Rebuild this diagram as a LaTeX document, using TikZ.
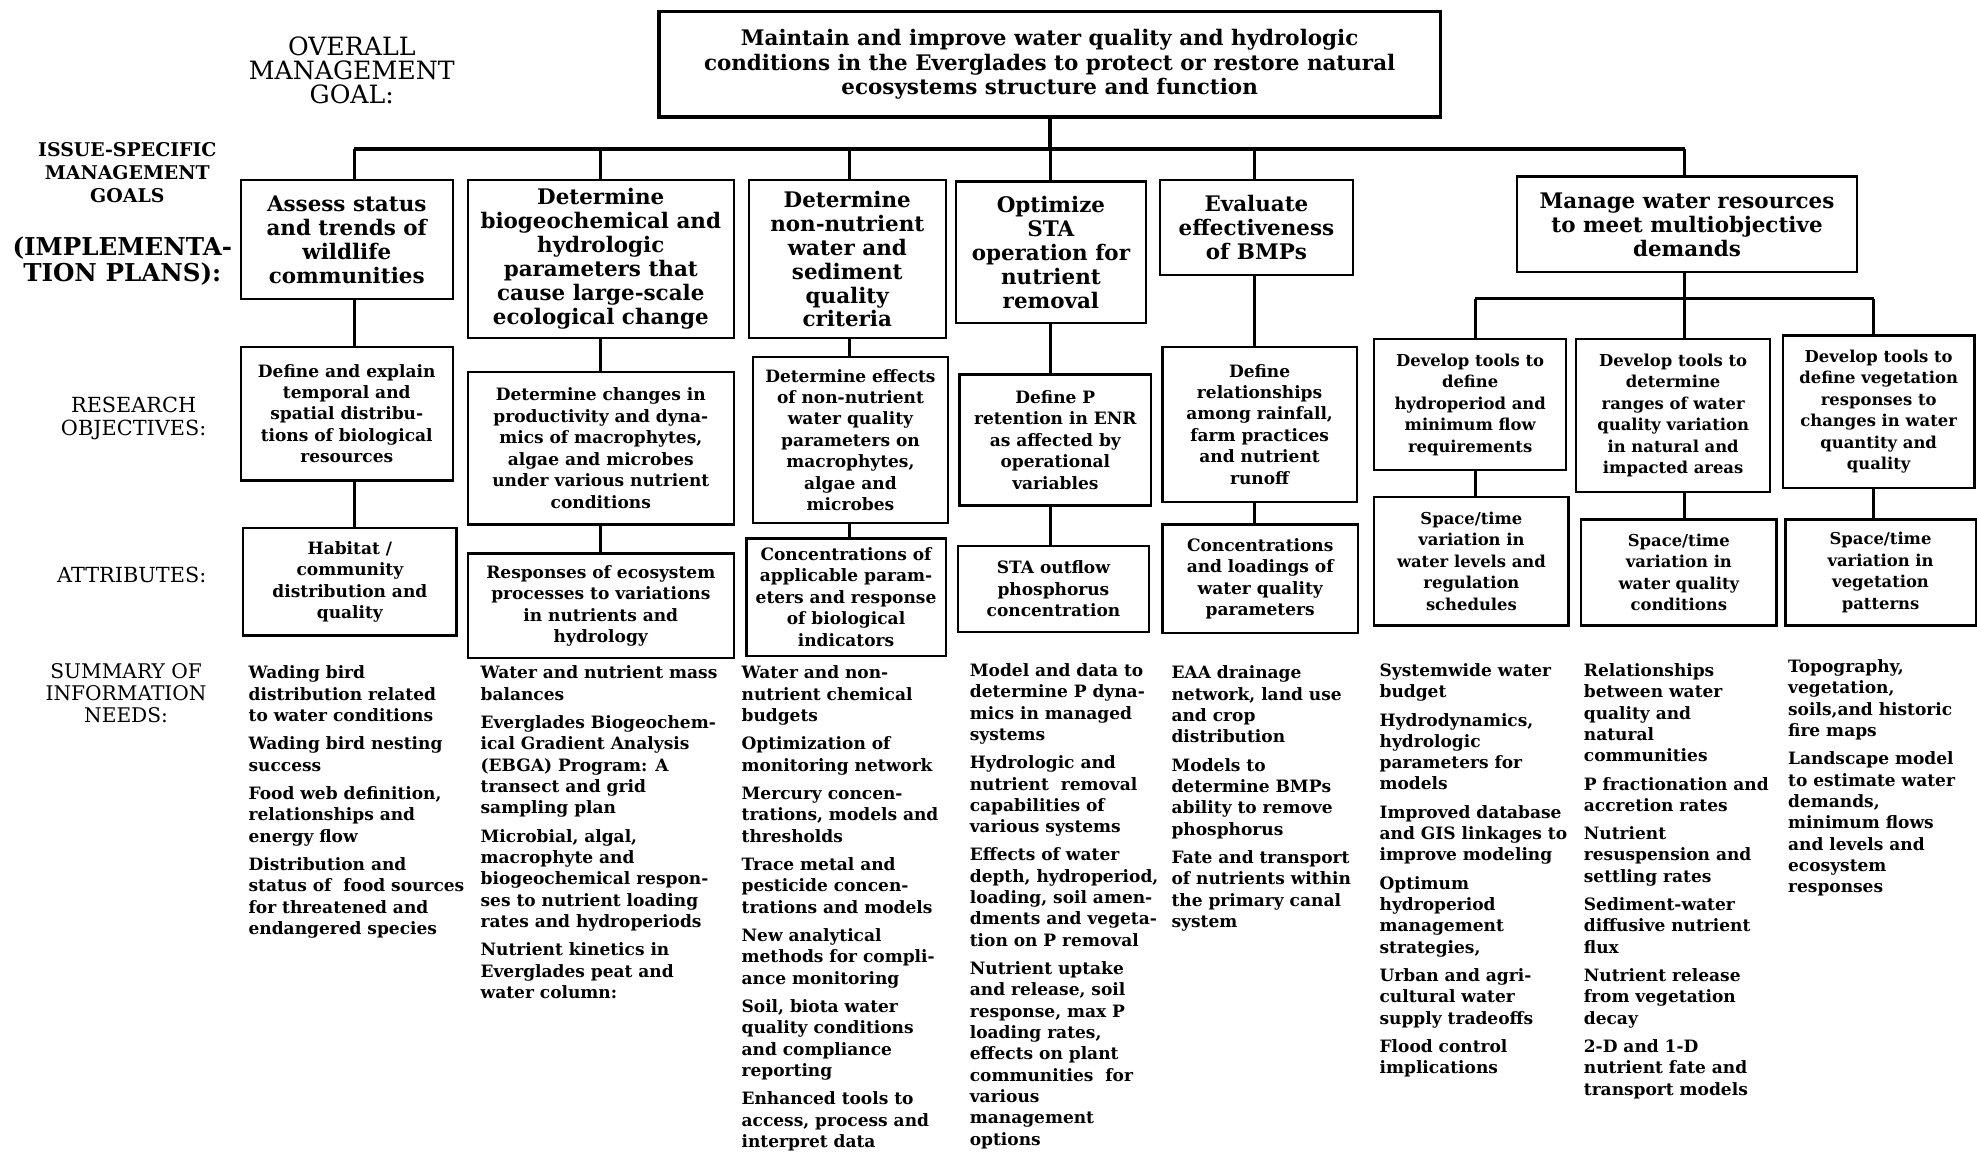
\documentclass[tikz,border=0pt]{standalone}
\usepackage{fontspec}
\setmainfont{DejaVu Serif}
\begin{document}
\begin{tikzpicture}[x=1pt,y=-1pt,
  box/.style={draw, line width=1.8pt, align=center, inner sep=1pt, font=\bfseries\fontsize{13.5}{17}\selectfont},
  goal/.style={box, font=\bfseries\fontsize{17}{19}\selectfont},
  small/.style={box, font=\bfseries\fontsize{13}{17}\selectfont},
  info/.style={anchor=north west, align=left, inner sep=0pt, font=\bfseries\fontsize{13.5}{16.9}\selectfont},
  lbl/.style={align=center, inner sep=0pt},
  bar/.style={line width=3pt},
  stem/.style={line width=2.4pt},
]
\fill[white] (0,0) rectangle (1568,917);
\useasboundingbox (0,0) rectangle (1568,917);

% left labels
\node[lbl, font=\fontsize{20}{19}\selectfont] (lgoal) at (279,56) {OVERALL\\MANAGEMENT\\GOAL:};
\node[lbl, font=\bfseries\fontsize{15}{18.5}\selectfont] (lissue) at (101,137) {ISSUE-SPECIFIC\\MANAGEMENT\\GOALS};
\node[lbl, font=\bfseries\fontsize{19.5}{21}\selectfont] (limpl) at (97,207) {(IMPLEMENTA-\\TION PLANS):};
\node[lbl, font=\fontsize{16.5}{18}\selectfont] (lres) at (106,332) {RESEARCH\\OBJECTIVES:};
\node[lbl, font=\fontsize{16.5}{18}\selectfont] (lattr) at (104.5,456) {ATTRIBUTES:};
\node[lbl, font=\fontsize{16}{17.5}\selectfont] (lsum) at (100,550) {SUMMARY OF\\INFORMATION\\NEEDS:};

% overall goal
\node[box, line width=2.8pt, font=\bfseries\fontsize{17}{19.5}\selectfont, minimum width=620, minimum height=84] (top) at (832.5,51)
 {Maintain and improve water quality and hydrologic\\conditions in the Everglades to protect or restore natural\\ecosystems structure and function};

% stem coordinates
\coordinate (c1) at (281,118);
\coordinate (c2) at (476,118);
\coordinate (c3) at (674,118);
\coordinate (c4) at (833,118);
\coordinate (c5) at (995,118);
\coordinate (c6) at (1336,118);
\coordinate (d1) at (1170,237);
\coordinate (d2) at (1336,237);
\coordinate (d3) at (1486,237);

% issue-specific goals
\node[goal, minimum width=168, minimum height=94] (b1) at (275,190) {Assess status\\and trends of\\wildlife\\communities};
\node[goal, minimum width=211, minimum height=125] (b2) at (476.5,205.5) {Determine\\biogeochemical and\\hydrologic\\parameters that\\cause large-scale\\ecological change};
\node[goal, minimum width=156, minimum height=125] (b3) at (672,205.5) {Determine\\non-nutrient\\water and\\sediment\\quality\\criteria};
\node[goal, minimum width=151, minimum height=112] (b4) at (833.5,200) {Optimize\\STA\\operation for\\nutrient\\removal};
\node[goal, minimum width=153, minimum height=75] (b5) at (996.5,180.5) {Evaluate\\effectiveness\\of BMPs};
\node[goal, minimum width=270, minimum height=76] (b6) at (1338,178) {Manage water resources\\to meet multiobjective\\demands};

% research objectives
\node[box, minimum width=168, minimum height=106] (r1) at (275,328) {Define and explain\\temporal and\\spatial distribu-\\tions of biological\\resources};
\node[box, minimum width=211, minimum height=121] (r2) at (476.5,355.5) {Determine changes in\\productivity and dyna-\\mics of macrophytes,\\algae and microbes\\under various nutrient\\conditions};
\node[box, minimum width=155, minimum height=132] (r3) at (674.5,349) {Determine effects\\of non-nutrient\\water quality\\parameters on\\macrophytes,\\algae and\\microbes};
\node[box, minimum width=152, minimum height=104] (r4) at (837,349) {Define P\\retention in ENR\\as affected by\\operational\\variables};
\node[box, minimum width=154, minimum height=123] (r5) at (999,336.5) {Define\\relationships\\among rainfall,\\farm practices\\and nutrient\\runoff};
\node[small, minimum width=152, minimum height=104] (r6) at (1166,321) {Develop tools to\\define\\hydroperiod and\\minimum flow\\requirements};
\node[small, minimum width=154, minimum height=121] (r7) at (1327,329.5) {Develop tools to\\determine\\ranges of water\\quality variation\\in natural and\\impacted areas};
\node[small, minimum width=152, minimum height=121] (r8) at (1490,326.5) {Develop tools to\\define vegetation\\responses to\\changes in water\\quantity and\\quality};

% attributes
\node[box, minimum width=169, minimum height=85] (a1) at (277.5,461.5) {Habitat /\\community\\distribution and\\quality};
\node[box, minimum width=211, minimum height=83] (a2) at (476.5,480.5) {Responses of ecosystem\\processes to variations\\in nutrients and\\hydrology};
\node[box, minimum width=158, minimum height=93] (a3) at (671,473.5) {Concentrations of\\applicable param-\\eters and response\\of biological\\indicators};
\node[box, minimum width=151, minimum height=68] (a4) at (835.5,467) {STA outflow\\phosphorus\\concentration};
\node[box, minimum width=155, minimum height=86] (a5) at (999.5,459) {Concentrations\\and loadings of\\water quality\\parameters};
\node[small, minimum width=154, minimum height=102] (a6) at (1167,445) {Space/time\\variation in\\water levels and\\regulation\\schedules};
\node[small, minimum width=155, minimum height=84] (a7) at (1331.5,454) {Space/time\\variation in\\water quality\\conditions};
\node[small, minimum width=151, minimum height=84] (a8) at (1491.5,454) {Space/time\\variation in\\vegetation\\patterns};

% connectors
\draw[bar] (top.south) -- (top.south |- c4);
\draw[bar] (c1) -- (c6);
\draw[stem] (c1) -- (c1 |- b1.north);
\draw[stem] (c2) -- (c2 |- b2.north);
\draw[stem] (c3) -- (c3 |- b3.north);
\draw[stem] (c4) -- (c4 |- b4.north);
\draw[stem] (c5) -- (c5 |- b5.north);
\draw[stem] (c6) -- (c6 |- b6.north);
\draw[stem] (b6.south -| d2) -- (d2);
\draw[stem] (d1) -- (d3);
\draw[stem] (d1) -- (d1 |- r6.north);
\draw[stem] (d2) -- (d2 |- r7.north);
\draw[stem] (d3) -- (d3 |- r8.north);
\draw[stem] (b1.south -| c1) -- (r1.north -| c1);
\draw[stem] (b2.south -| c2) -- (r2.north -| c2);
\draw[stem] (b3.south -| c3) -- (r3.north -| c3);
\draw[stem] (b4.south -| c4) -- (r4.north -| c4);
\draw[stem] (b5.south -| c5) -- (r5.north -| c5);
\draw[stem] (r1.south -| c1) -- (a1.north -| c1);
\draw[stem] (r2.south -| c2) -- (a2.north -| c2);
\draw[stem] (r3.south -| c3) -- (a3.north -| c3);
\draw[stem] (r4.south -| c4) -- (a4.north -| c4);
\draw[stem] (r5.south -| c5) -- (a5.north -| c5);
\draw[stem] (r6.south -| d1) -- (a6.north -| d1);
\draw[stem] (r7.south -| d2) -- (a7.north -| d2);
\draw[stem] (r8.south -| d3) -- (a8.north -| d3);

% summary of information needs
\node[info] (s1) at (197,528) {Wading bird\\distribution related\\to water conditions\\[5.6pt]Wading bird nesting\\success\\[5.6pt]Food web definition,\\relationships and\\energy flow\\[5.6pt]Distribution and\\status of \ food sources\\for threatened and\\endangered species};
\node[info] (s2) at (381,528) {Water and nutrient mass\\balances\\[5.6pt]Everglades Biogeochem-\\ical Gradient Analysis\\(EBGA) Program: A\\transect and grid\\sampling plan\\[5.6pt]Microbial, algal,\\macrophyte and\\biogeochemical respon-\\ses to nutrient loading\\rates and hydroperiods\\[5.6pt]Nutrient kinetics in\\Everglades peat and\\water column:};
\node[info] (s3) at (588,528) {Water and non-\\nutrient chemical\\budgets\\[5.6pt]Optimization of\\monitoring network\\[5.6pt]Mercury concen-\\trations, models and\\thresholds\\[5.6pt]Trace metal and\\pesticide concen-\\trations and models\\[5.6pt]New analytical\\methods for compli-\\ance monitoring\\[5.6pt]Soil, biota water\\quality conditions\\and compliance\\reporting\\[5.6pt]Enhanced tools to\\access, process and\\interpret data};
\node[info] (s4) at (769,526) {Model and data to\\determine P dyna-\\mics in managed\\systems\\[5.6pt]Hydrologic and\\nutrient \ removal\\capabilities of\\various systems\\[5.6pt]Effects of water\\depth, hydroperiod,\\loading, soil amen-\\dments and vegeta-\\tion on P removal\\[5.6pt]Nutrient uptake\\and release, soil\\response, max P\\loading rates,\\effects on plant\\communities \ for\\various\\management\\options};
\node[info] (s5) at (929,528) {EAA drainage\\network, land use\\and crop\\distribution\\[5.6pt]Models to\\determine BMPs\\ability to remove\\phosphorus\\[5.6pt]Fate and transport\\of nutrients within\\the primary canal\\system};
\node[info] (s6) at (1094,526) {Systemwide water\\budget\\[5.6pt]Hydrodynamics,\\hydrologic\\parameters for\\models\\[5.6pt]Improved database\\and GIS linkages to\\improve modeling\\[5.6pt]Optimum\\hydroperiod\\management\\strategies,\\[5.6pt]Urban and agri-\\cultural water\\supply tradeoffs\\[5.6pt]Flood control\\implications};
\node[info] (s7) at (1256,526) {Relationships\\between water\\quality and\\natural\\communities\\[5.6pt]P fractionation and\\accretion rates\\[5.6pt]Nutrient\\resuspension and\\settling rates\\[5.6pt]Sediment-water\\diffusive nutrient\\flux\\[5.6pt]Nutrient release\\from vegetation\\decay\\[5.6pt]2-D and 1-D\\nutrient fate and\\transport models};
\node[info] (s8) at (1418,523) {Topography,\\vegetation,\\soils,and historic\\fire maps\\[5.6pt]Landscape model\\to estimate water\\demands,\\minimum flows\\and levels and\\ecosystem\\responses};
\end{tikzpicture}
\end{document}
